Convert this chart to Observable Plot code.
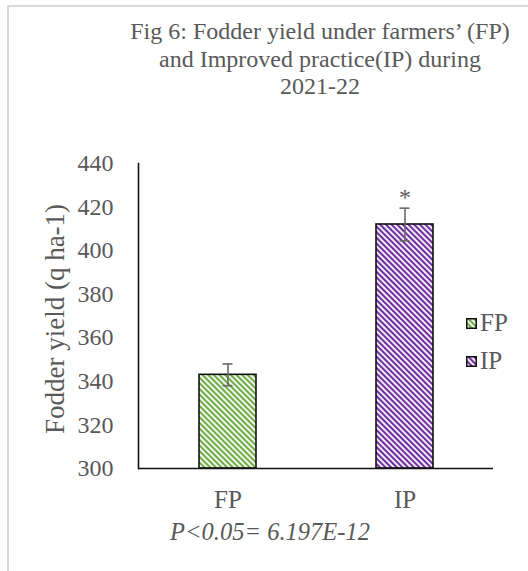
<!DOCTYPE html>
<html>
<head>
<meta charset="utf-8">
<script src="https://cdn.jsdelivr.net/npm/d3@7"></script>
<script src="https://cdn.jsdelivr.net/npm/@observablehq/plot@0.6"></script>
<style>
  html, body { margin: 0; padding: 0; background: #fff; }
  #page { position: relative; width: 528px; height: 571px; overflow: hidden; font-family: "Liberation Serif", "Times New Roman", serif; color: #595959; }
  #frame { position: absolute; left: 7px; top: 5px; width: 540px; height: 600px; border-left: 2px solid #d9d9d9; border-top: 2px solid #d9d9d9; }
  #title { position: absolute; left: 110px; width: 420px; top: 18px; text-align: center; font-size: 24px; line-height: 27.5px; }
  #chart { position: absolute; left: 0; top: 140px; }
  #legend { position: absolute; left: 466px; top: 304px; font-size: 25px; }
  .item { display: flex; align-items: center; height: 38px; }
  .item svg { margin-right: 3px; }
  #caption { position: absolute; left: 0; width: 540px; top: 518px; text-align: center; font-style: italic; font-size: 24.5px; }
</style>
</head>
<body>
<div id="page">
  <div id="frame"></div>
  <div id="title">Fig 6: Fodder yield under farmers’ (FP)<br>and Improved practice(IP) during<br>2021-22</div>
  <div id="chart"></div>
  <div id="legend"></div>
  <div id="caption">P&lt;0.05= 6.197E-12</div>
</div>
<script>
// ---- data ----
const categories = ["FP", "IP"];
const means = [343, 412];
const errors = [5, 7.5];
const significance = ["", "*"];
const yTicks = [300, 320, 340, 360, 380, 400, 420, 440];
const yLabel = "Fodder yield (q ha-1)";
const seriesColors = ["#70ad47", "#7030a0"];

const rows = categories.map((c, i) => ({cat: c, mean: means[i], err: errors[i], sig: significance[i]}));
const patternIds = categories.map(c => "hatch-" + c);

const font = "'Liberation Serif', 'Times New Roman', serif";
const grey = "#595959";

const plot = Plot.plot({
  width: 528,
  height: 431,
  marginTop: 23,
  marginBottom: 103,
  marginLeft: 138,
  marginRight: 35,
  style: {fontFamily: font, color: grey, background: "transparent", overflow: "visible"},
  x: {domain: categories, paddingInner: 0.68, paddingOuter: 0.34, label: null},
  y: {domain: [300, 440], label: null},
  color: {domain: categories, range: patternIds.map(id => `url(#${id})`)},
  marks: [
    Plot.barY(rows, {x: "cat", y1: 300, y2: "mean", fill: "cat", stroke: "#111", strokeWidth: 1.6}),
    Plot.ruleX(rows, {x: "cat", y1: d => d.mean - d.err, y2: d => d.mean + d.err, stroke: "#6b6b6b", strokeWidth: 1.6}),
    Plot.tickY(rows, {x: "cat", y: d => d.mean + d.err, stroke: "#6b6b6b", strokeWidth: 1.6, insetLeft: 23.5, insetRight: 23.5}),
    Plot.tickY(rows, {x: "cat", y: d => d.mean - d.err, stroke: "#6b6b6b", strokeWidth: 1.6, insetLeft: 23.5, insetRight: 23.5}),
    Plot.text(rows, {x: "cat", y: d => d.mean + d.err, text: "sig", lineAnchor: "bottom", dy: -3, fontSize: 24, fill: grey}),
    Plot.frame({anchor: "left", stroke: "#111", strokeWidth: 1.6}),
    Plot.ruleY([300], {stroke: "#111", strokeWidth: 1.6}),
    Plot.axisY({ticks: yTicks, tickSize: 0, tickPadding: 25, fontSize: 24, fill: grey, label: null}),
    Plot.axisX({tickSize: 0, tickPadding: 22, fontSize: 25, fill: grey, label: null}),
    Plot.text([yLabel], {frameAnchor: "left", textAnchor: "middle", rotate: -90, dx: -83, dy: 3, fontSize: 27, fill: grey})
  ]
});

function patternDefs(prefix) {
  return categories.map((c, i) =>
    `<pattern id="${prefix}${patternIds[i]}" patternUnits="userSpaceOnUse" width="4" height="4" patternTransform="rotate(-45)">
       <rect width="4" height="4" fill="#fff"/>
       <rect width="2.2" height="4" fill="${seriesColors[i]}"/>
     </pattern>`).join("");
}

d3.select(plot).insert("defs", ":first-child").html(patternDefs(""));
document.getElementById("chart").appendChild(plot);

// legend
const legend = d3.select("#legend");
categories.forEach((c, i) => {
  const item = legend.append("div").attr("class", "item");
  const sw = item.append("svg").attr("width", 11).attr("height", 11);
  sw.append("defs").html(patternDefs("lg-"));
  sw.append("rect").attr("x", 0.75).attr("y", 0.75).attr("width", 9.5).attr("height", 9.5)
    .attr("fill", `url(#lg-${patternIds[i]})`).attr("stroke", "#111").attr("stroke-width", 1.5);
  item.append("span").text(c);
});
</script>
</body>
</html>
